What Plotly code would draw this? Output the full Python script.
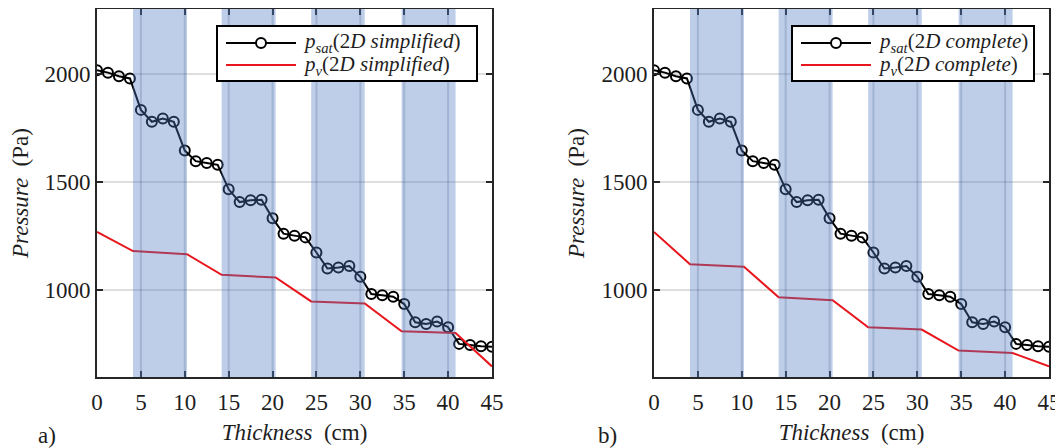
import plotly.graph_objects as go

# thickness positions of the saturation pressure nodes (cm)
thick = [i * 1.25 for i in range(37)]

psat_simpl = [2017, 2006, 1989, 1979, 1834, 1779, 1794, 1779, 1646, 1597, 1589, 1580,
              1467, 1408, 1416, 1419, 1333, 1262, 1253, 1245, 1175, 1101, 1106, 1113,
              1063, 983, 978, 971, 937, 853, 845, 856, 830, 753, 748, 742, 740]
psat_compl = psat_simpl

# vapour pressure profile break points
pv_x = [0, 4.1, 10.25, 14.2, 20.35, 24.4, 30.5, 34.7, 40.85, 45]
pv_simpl = [1270, 1182, 1167, 1072, 1060, 949, 940, 811, 803, 649]
pv_compl = [1270, 1121, 1109, 968, 955, 830, 819, 722, 711, 649]

# insulation layers
band_start = [4.1, 14.2, 24.4, 34.7]
band_end = [10.25, 20.35, 30.5, 40.85]
band_lines = [5, 10, 15, 20, 25, 30, 35, 40]

xticks = [0, 5, 10, 15, 20, 25, 30, 35, 40, 45]
yticks = [1000, 1500, 2000]

serif = "Liberation Serif"
axcol = "#262626"
txt = "#1e1e1e"

# page body has an 8px margin, so the figure is 16px smaller than the window
W, H = 1055, 440
ML, MR, MT, MB = 89, 14, 1, 71
PW, PH = W - ML - MR, H - MT - MB
dom1 = [0, 395 / PW]
dom2 = [557 / PW, 1]

fig = go.Figure()
annos = []


def px(x, y):
    # plot-area pixel offsets -> paper coords
    return x / PW, 1 - y / PH


panels = [
    ("x", "y", dom1, psat_simpl, pv_simpl, "simplified", 260),
    ("x2", "y2", dom2, psat_compl, pv_compl, "complete", 242),
]
for xa, ya, dom, ps, pv, name, lw in panels:
    fig.add_trace(go.Scatter(x=thick, y=ps, xaxis=xa, yaxis=ya, showlegend=False,
                             mode="lines+markers",
                             line=dict(color="black", width=2),
                             marker=dict(symbol="circle-open", size=10, color="black",
                                         line=dict(width=2, color="black"))))
    fig.add_trace(go.Scatter(x=pv_x, y=pv, xaxis=xa, yaxis=ya, showlegend=False,
                             mode="lines", line=dict(color="#e8161c", width=2)))
    for s, e in zip(band_start, band_end):
        fig.add_shape(type="rect", xref=xa, yref=ya + " domain", x0=s, x1=e, y0=0, y1=1,
                      fillcolor="rgb(80,121,193)", opacity=0.37, line_width=0, layer="above")
    for v in band_lines:
        fig.add_shape(type="line", xref=xa, yref=ya + " domain", x0=v, x1=v, y0=0, y1=1,
                      line=dict(color="rgba(60,85,130,0.22)", width=2), layer="above")

    # legend box, drawn by hand to get MATLAB-like long line samples
    right = dom[1] * PW - 15
    left = right - lw
    bx0, by0 = px(left, 17)
    bx1, by1 = px(right, 72)
    fig.add_shape(type="rect", xref="paper", yref="paper", x0=bx0, x1=bx1, y0=by1, y1=by0,
                  fillcolor="white", line=dict(color="black", width=2), layer="above")
    for row, (col, label) in enumerate([("black", "<i>p</i><sub><i>sat</i></sub>(2<i>D " + name + "</i>)"),
                                        ("#e8161c", "<i>p</i><sub><i>v</i></sub>(2<i>D " + name + "</i>)")]):
        ry = 34 + 22 * row
        lx0, ly = px(left + 9, ry)
        lx1, _ = px(left + 79, ry)
        fig.add_shape(type="line", xref="paper", yref="paper", x0=lx0, x1=lx1, y0=ly, y1=ly,
                      line=dict(color=col, width=2), layer="above")
        if row == 0:
            mx, _ = px(left + 44, ry)
            fig.add_shape(type="circle", xref="paper", yref="paper", xsizemode="pixel",
                          ysizemode="pixel", xanchor=mx, yanchor=ly, x0=-5, x1=5, y0=-5, y1=5,
                          fillcolor="white", line=dict(color="black", width=2), layer="above")
        tx, _ = px(left + 84, ry)
        annos.append(dict(text=label, x=tx, y=ly, xref="paper", yref="paper", showarrow=False,
                          xanchor="left", yanchor="middle", height=21, valign="middle",
                          font=dict(family=serif, size=21, color=txt)))

title_font = dict(family=serif, size=23, color=txt)


def axis(**kw):
    d = dict(showline=True, linewidth=2, linecolor=axcol, mirror="ticks",
             ticks="inside", ticklen=6, tickwidth=1.5, tickcolor=axcol, automargin=False,
             tickfont=dict(family=serif, size=23, color=txt))
    d.update(kw)
    return d


xtitle = dict(text="<i>Thickness</i>  (cm)", standoff=10, font=title_font)
ytitle = dict(text="<i>Pressure</i>  (Pa)", standoff=10, font=title_font)

annos += [
    dict(text="a)", x=-50 / PW, y=-58 / PH, xref="paper", yref="paper", showarrow=False,
         xanchor="center", yanchor="middle", font=title_font),
    dict(text="b)", x=510 / PW, y=-58 / PH, xref="paper", yref="paper", showarrow=False,
         xanchor="center", yanchor="middle", font=title_font),
]

fig.update_layout(
    width=W, height=H,
    margin=dict(l=ML, r=MR, t=MT, b=MB),
    plot_bgcolor="white", paper_bgcolor="white",
    font=dict(family=serif, color=txt),
    showlegend=False,
    xaxis=axis(domain=dom1, range=[0, 45], tickvals=xticks, showgrid=False,
               ticklabelstandoff=3, title=xtitle),
    xaxis2=axis(domain=dom2, range=[0, 45], tickvals=xticks, showgrid=False,
                ticklabelstandoff=3, anchor="y2", title=xtitle),
    yaxis=axis(domain=[0, 1], range=[600, 2300], tickvals=yticks, showgrid=True,
               gridcolor="#dedede", gridwidth=1.5, title=ytitle),
    yaxis2=axis(domain=[0, 1], range=[600, 2300], tickvals=yticks, showgrid=True,
                gridcolor="#dedede", gridwidth=1.5, anchor="x2", title=ytitle),
    annotations=annos,
)

fig.write_html("out.html")
